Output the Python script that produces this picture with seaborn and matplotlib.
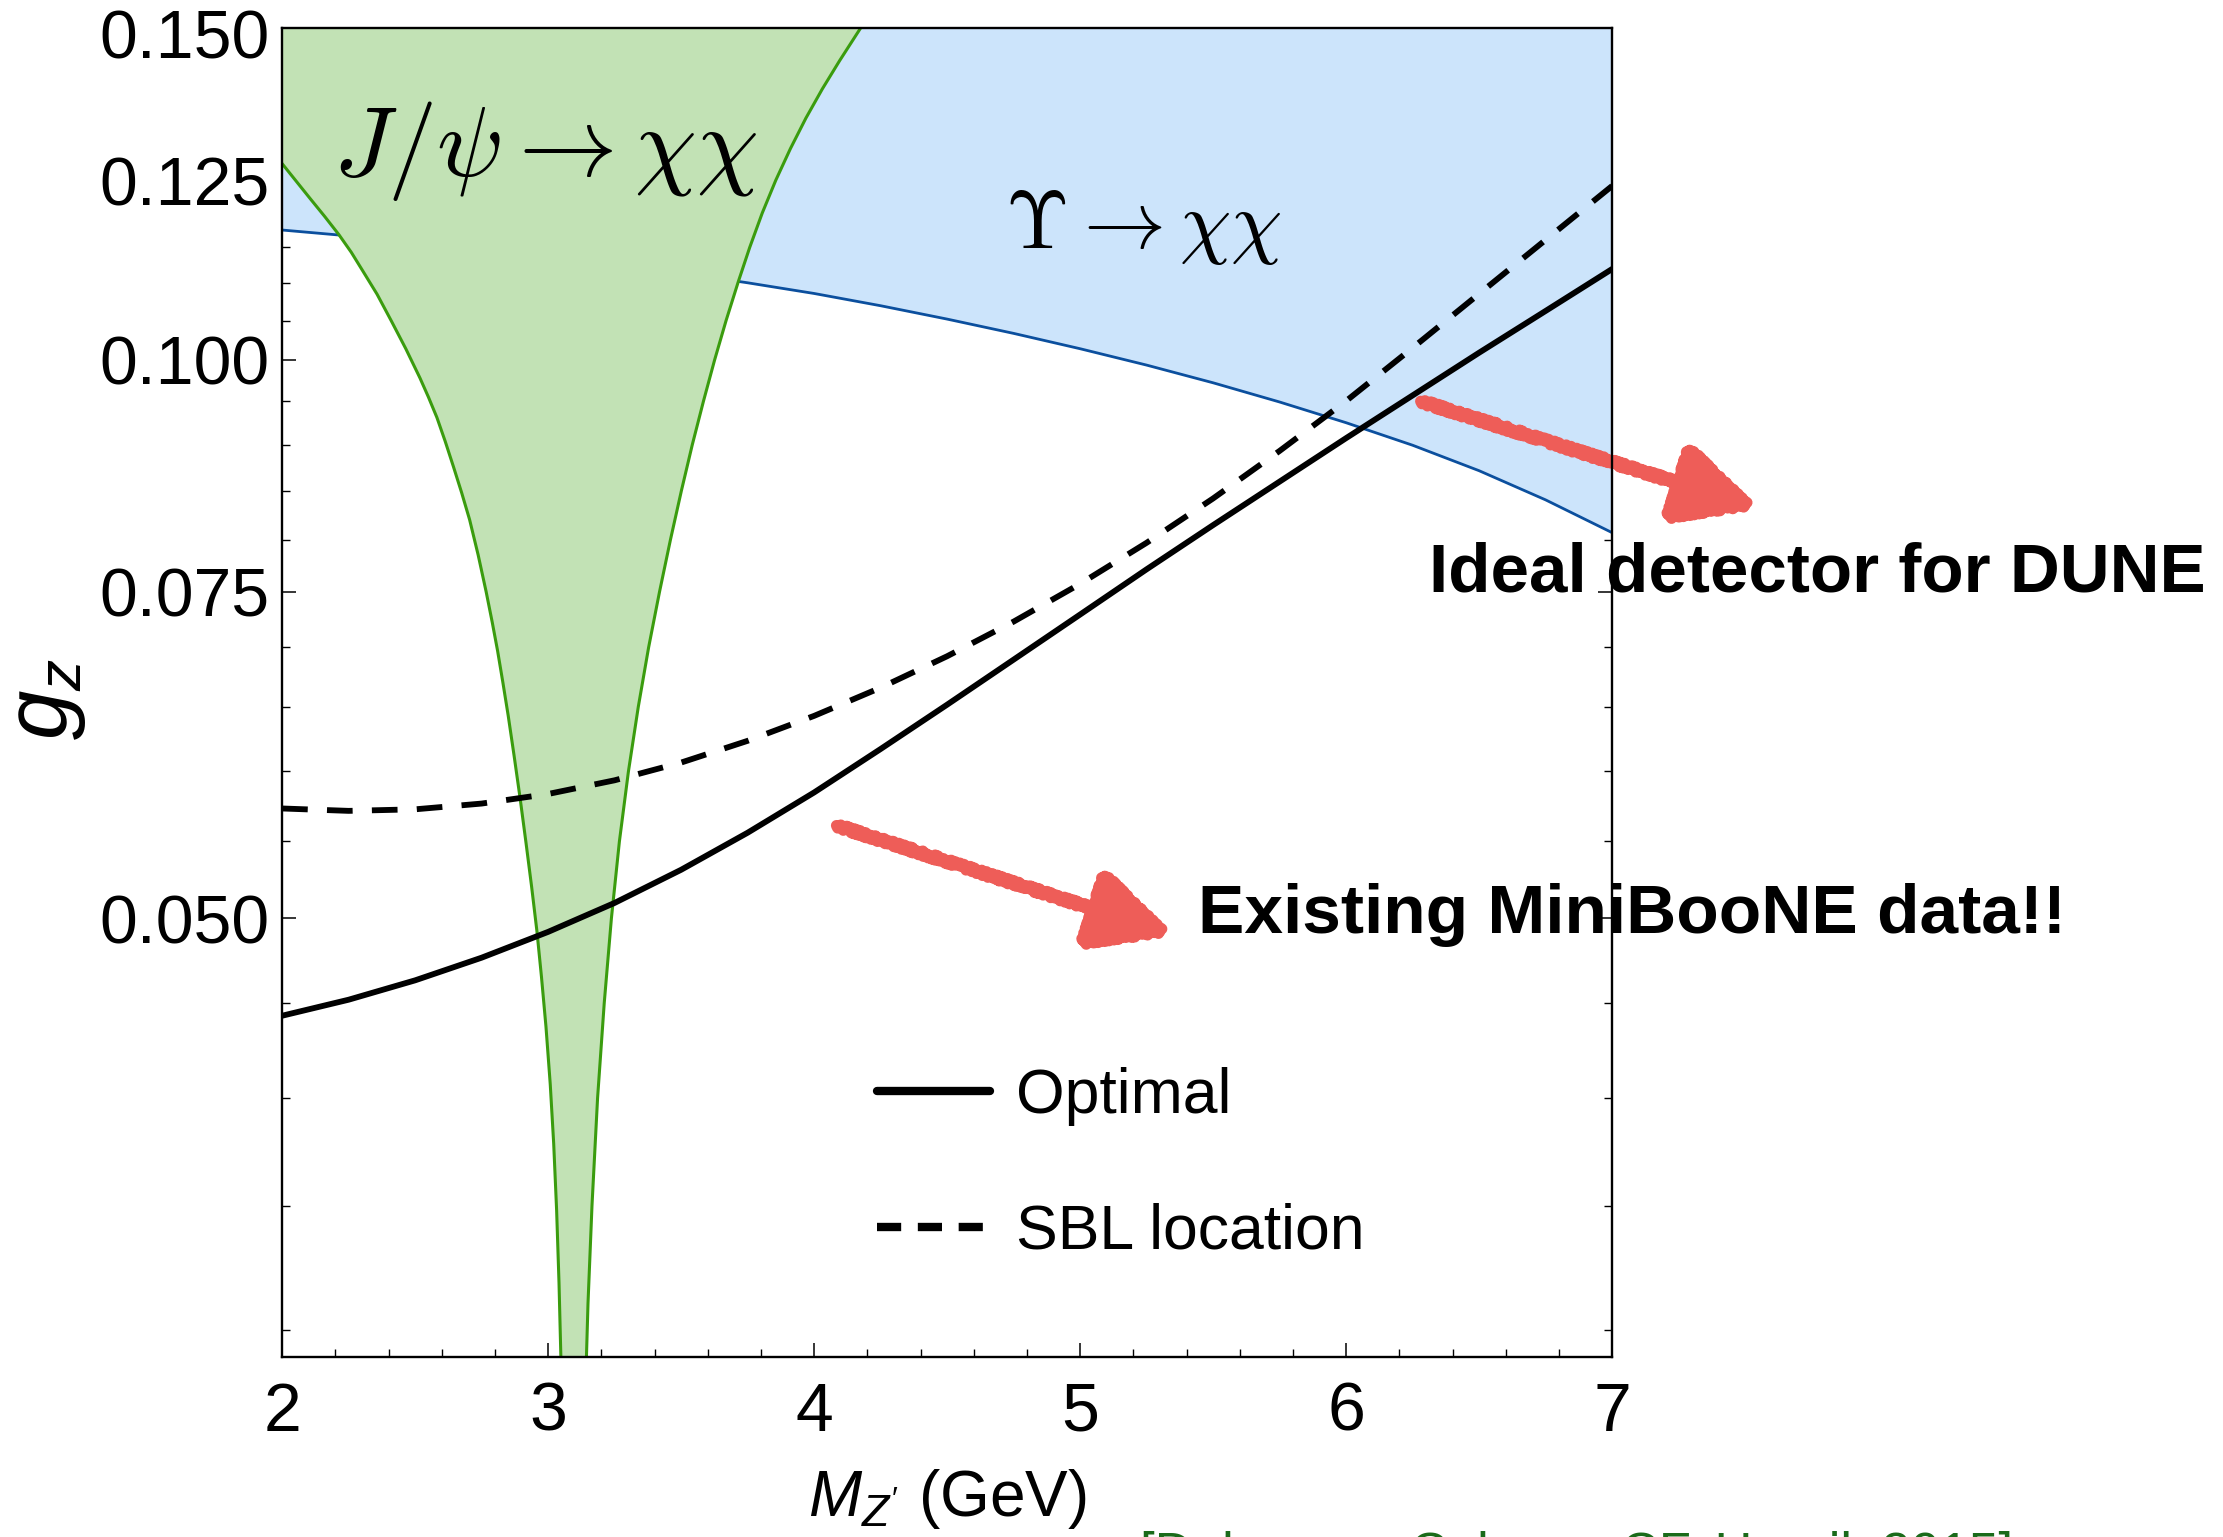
import matplotlib
matplotlib.use("Agg")
import matplotlib.pyplot as plt
import matplotlib.ticker as mticker
import seaborn as sns
import pandas as pd

# ---------------- data ----------------
mz_grid = [2.00, 2.25, 2.50, 2.75, 3.00, 3.25, 3.50, 3.75, 4.00, 4.25, 4.50,
           4.75, 5.00, 5.25, 5.50, 5.75, 6.00, 6.25, 6.50, 6.75, 7.00]
g_optimal = [0.04430, 0.04519, 0.04629, 0.04761, 0.04916, 0.05096, 0.05310,
             0.05560, 0.05845, 0.06169, 0.06518, 0.06893, 0.07290, 0.07711,
             0.08146, 0.08598, 0.09075, 0.09569, 0.10090, 0.10627, 0.11195]
g_sbl = [0.05730, 0.05713, 0.05724, 0.05765, 0.05834, 0.05934, 0.06066,
         0.06232, 0.06428, 0.06657, 0.06922, 0.07226, 0.07573, 0.07969,
         0.08420, 0.08932, 0.09503, 0.10151, 0.10855, 0.11607, 0.12411]

mz_upsilon = [2.00, 2.25, 2.50, 2.75, 3.00, 3.25, 3.50, 3.75, 4.00, 4.25, 4.50,
              4.75, 5.00, 5.25, 5.50, 5.75, 6.00, 6.25, 6.50, 6.75, 7.00]
g_upsilon = [0.11750, 0.11665, 0.11570, 0.11475, 0.11370, 0.11260, 0.11140,
             0.11005, 0.10860, 0.10696, 0.10520, 0.10335, 0.10140, 0.09936,
             0.09720, 0.09491, 0.09250, 0.08995, 0.08715, 0.08405, 0.08070]

jpsi_left_mz = [2.000, 2.050, 2.105, 2.160, 2.214, 2.260, 2.303, 2.357, 2.410,
                2.465, 2.518, 2.550, 2.582, 2.613, 2.644, 2.675, 2.705, 2.737,
                2.767, 2.790, 2.810, 2.830, 2.850, 2.872, 2.895, 2.917, 2.938,
                2.958, 2.975, 2.992, 3.008, 3.021, 3.032, 3.041, 3.048, 3.050]
jpsi_left_g = [0.1276, 0.1250, 0.1222, 0.1195, 0.1168, 0.1143, 0.1117, 0.1085,
               0.1050, 0.1014, 0.0978, 0.0955, 0.0931, 0.0904, 0.0876, 0.0848,
               0.0820, 0.0785, 0.0750, 0.0722, 0.0697, 0.0670, 0.0643, 0.0612,
               0.0580, 0.0549, 0.0520, 0.0492, 0.0465, 0.0437, 0.0407, 0.0378,
               0.0348, 0.0318, 0.0290, 0.0280]
jpsi_right_mz = [3.141, 3.150, 3.165, 3.186, 3.211, 3.238, 3.268, 3.302, 3.339,
                 3.378, 3.419, 3.460, 3.501, 3.542, 3.584, 3.626, 3.669, 3.715,
                 3.758, 3.805, 3.856, 3.911, 3.969, 4.031, 4.096, 4.175]
jpsi_right_g = [0.0280, 0.0310, 0.0350, 0.0400, 0.0450, 0.0500, 0.0550, 0.0600,
                0.0650, 0.0700, 0.0750, 0.0800, 0.0850, 0.0900, 0.0950, 0.1000,
                0.1050, 0.1102, 0.1150, 0.1200, 0.1250, 0.1300, 0.1350, 0.1400,
                0.1450, 0.1510]

x_ticks = [2, 3, 4, 5, 6, 7]
y_ticks = [0.050, 0.075, 0.100, 0.125, 0.150]
y_tick_labels = ["0.050", "0.075", "0.100", "0.125", "0.150"]
y_minor = [0.030, 0.035, 0.040, 0.045, 0.055, 0.060, 0.065, 0.070, 0.080,
           0.085, 0.090, 0.095, 0.105, 0.110, 0.115, 0.120, 0.130, 0.135,
           0.140, 0.145]
series_labels = ["Optimal", "SBL location"]

# ---------------- style ----------------
sns.set_style("ticks")
plt.rcParams["font.family"] = ["Liberation Sans", "DejaVu Sans"]
plt.rcParams["mathtext.fontset"] = "custom"
plt.rcParams["mathtext.it"] = "Liberation Sans:italic"
plt.rcParams["mathtext.rm"] = "Liberation Sans"
plt.rcParams["mathtext.bf"] = "Liberation Sans:bold"
for key in ["text.color", "axes.labelcolor", "xtick.color", "ytick.color",
            "xtick.labelcolor", "ytick.labelcolor", "axes.edgecolor"]:
    plt.rcParams[key] = "black"

GREEN_FILL = "#c2e2b5"
GREEN_LINE = "#3a9c0e"
BLUE_FILL = "#cce4fb"
BLUE_LINE = "#0b4f9e"
ARROW = "#ee5d58"

fig = plt.figure(figsize=(22.23, 15.37), dpi=100)
ax = fig.add_axes([0.1269, 0.1171, 0.5983, 0.8647])
ax.set_yscale("log")
ylo, yhi = 0.029, 0.151

# Upsilon region
ax.fill_between(mz_upsilon, g_upsilon, yhi, color=BLUE_FILL, lw=0, zorder=1)
ax.plot(mz_upsilon, g_upsilon, color=BLUE_LINE, lw=2.0, zorder=2)

# J/psi region
poly_x = [jpsi_left_mz[0]] + jpsi_left_mz + jpsi_right_mz
poly_y = [yhi] + jpsi_left_g + jpsi_right_g
ax.fill(poly_x, poly_y, color=GREEN_FILL, lw=0, zorder=3)
ax.plot(jpsi_left_mz, jpsi_left_g, color=GREEN_LINE, lw=2.2, zorder=4)
ax.plot(jpsi_right_mz, jpsi_right_g, color=GREEN_LINE, lw=2.2, zorder=4)

# sensitivity curves
df = pd.DataFrame({"mz": mz_grid + mz_grid,
                   "g": g_optimal + g_sbl,
                   "case": [series_labels[0]] * len(mz_grid) + [series_labels[1]] * len(mz_grid)})
sns.lineplot(data=df[df["case"] == series_labels[0]], x="mz", y="g", color="black",
             lw=4.2, ax=ax, estimator=None, sort=False, zorder=5, label=series_labels[0])
sns.lineplot(data=df[df["case"] == series_labels[1]], x="mz", y="g", color="black",
             lw=4.2, ax=ax, estimator=None, sort=False, zorder=5, label=series_labels[1])
ax.lines[-1].set_dashes([4.4, 3.3])

ax.set_xlim(2, 7)
ax.set_ylim(ylo, yhi)

# ticks
ax.xaxis.set_major_locator(mticker.FixedLocator(x_ticks))
ax.xaxis.set_minor_locator(mticker.MultipleLocator(0.2))
ax.yaxis.set_major_locator(mticker.FixedLocator(y_ticks))
ax.yaxis.set_major_formatter(mticker.FixedFormatter(y_tick_labels))
ax.yaxis.set_minor_locator(mticker.FixedLocator(y_minor))
ax.yaxis.set_minor_formatter(mticker.NullFormatter())
ax.tick_params(which="both", direction="in", top=True, right=True, color="black")
ax.tick_params(which="major", length=10, width=1.1, labelsize=49, labelcolor="black")
ax.tick_params(which="minor", length=6, width=1.0)
ax.tick_params(axis="x", which="major", pad=17)
ax.tick_params(axis="y", which="major", pad=9)
for s in ax.spines.values():
    s.set_linewidth(1.7)
    s.set_color("black")
    s.set_zorder(10)

# axis labels
ax.set_xlabel(r"$M_{Z'}$ (GeV)", fontsize=46, color="black")
ax.xaxis.set_label_coords(0.5, -0.083)
ax.set_ylabel(r"$g_z$", fontsize=64, color="black")
ax.yaxis.set_label_coords(-0.146, 0.495)

# legend
leg = ax.legend(loc="upper left", bbox_to_anchor=(0.447, 0.2185), frameon=False,
                fontsize=45, handlelength=1.82, handletextpad=0.41,
                labelspacing=1.23, borderpad=0, borderaxespad=0)
for t in leg.get_texts():
    t.set_color("black")
leg_lines = leg.get_lines()
for h in leg_lines:
    h.set_linewidth(6.0)
leg_lines[1].set_dashes([2.9, 2.0])

# region labels
ax.text(2.989, 0.1257, r"$J/\psi \rightarrow \chi\chi$", fontsize=71,
        math_fontfamily="cm", ha="center", va="baseline", zorder=6)
ax.text(5.236, 0.1149, r"$\Upsilon \rightarrow \chi\chi$", fontsize=59,
        math_fontfamily="cm", ha="center", va="baseline", zorder=6)

# annotations
ax.text(6.31, 0.0750, "Ideal detector for DUNE", fontsize=49.8, fontweight="bold",
        ha="left", va="baseline", zorder=8, clip_on=False)
ax.text(5.445, 0.0491, "Existing MiniBooNE data!!", fontsize=50, fontweight="bold",
        ha="left", va="baseline", zorder=8, clip_on=False)

for tail, head in [((6.28, 0.0950), (7.545, 0.0832)), ((4.084, 0.0561), (5.345, 0.0490))]:
    ann = ax.annotate("", xy=head, xytext=tail, annotation_clip=False, zorder=9,
                      arrowprops=dict(arrowstyle="-|>,head_length=1.0,head_width=0.5",
                                      color=ARROW, lw=8, shrinkA=0, shrinkB=0,
                                      mutation_scale=50))
    ann.arrow_patch.set_sketch_params(scale=2.5, length=5, randomness=3)

fig.text(0.513, 0.0036, "[Dobrescu, Coloma, CF, Harnik 2015]", fontsize=38,
         color="#1b6b1b", ha="left", va="top")

fig.savefig("out.png", dpi=100)
